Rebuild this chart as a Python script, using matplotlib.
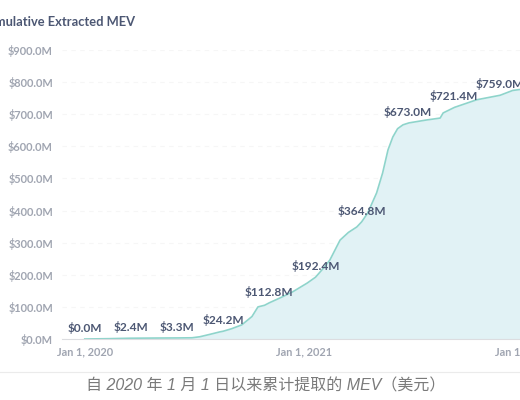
import pandas as pd
import matplotlib
matplotlib.use('Agg')
from matplotlib import pyplot as plt
from matplotlib.lines import Line2D

# cumulative MEV (million USD)
dates = ['2020-01-01', '2020-02-10', '2020-03-18', '2020-04-30', '2020-06-03',
         '2020-06-28', '2020-07-11', '2020-07-29', '2020-08-13', '2020-08-19',
         '2020-09-02', '2020-09-19', '2020-10-06', '2020-10-16', '2020-10-27',
         '2020-11-04', '2020-11-22', '2020-12-13', '2021-01-06', '2021-01-20',
         '2021-02-02', '2021-02-13', '2021-03-02', '2021-03-16', '2021-03-30',
         '2021-04-07', '2021-04-17', '2021-05-02', '2021-05-12', '2021-05-21',
         '2021-05-29', '2021-06-06', '2021-06-15', '2021-06-25', '2021-07-24',
         '2021-08-16', '2021-08-21', '2021-09-09', '2021-10-16', '2021-11-24',
         '2021-12-15', '2021-12-31']
values = [0.0, 1.0, 2.4, 3.0, 3.3,
          3.8, 7.0, 15.0, 22.0, 24.2,
          32.0, 44.0, 70.0, 100.0, 105.0,
          112.8, 128.0, 147.0, 174.0, 192.4,
          220.0, 246.0, 308.0, 332.0, 349.0,
          364.8, 392.0, 455.0, 517.0, 589.0,
          629.0, 655.0, 667.0, 673.0, 682.0,
          688.0, 704.0, 721.4, 745.0, 759.0,
          774.0, 778.0]

label_dates = ['2020-01-01', '2020-03-18', '2020-06-03', '2020-08-19', '2020-11-04',
               '2021-01-20', '2021-04-07', '2021-06-23', '2021-09-08', '2021-11-24']
label_values = [0.0, 2.4, 3.3, 24.2, 112.8, 192.4, 364.8, 673.0, 721.4, 759.0]

tick_dates = ['2020-01-01', '2021-01-01', '2022-01-01']
tick_labels = ['Jan 1, 2020', 'Jan 1, 2021', 'Jan 1, 2022']
y_ticks = [0, 100, 200, 300, 400, 500, 600, 700, 800, 900]

title = 'Cumulative Extracted MEV'
caption = '自 2020 年 1 月 1 日以来累计提取的 MEV（美元）'

x = pd.to_datetime(dates)

fig = plt.figure(figsize=(5.2, 4), dpi=100)
ax = fig.add_axes([62 / 520, 61 / 400, 498 / 520, 289 / 400])

ax.fill_between(x, values, 0, color='#e1f2f5', lw=0)
ax.plot(x, values, color='#8ed4cb', lw=1.2)

for d, v in zip(pd.to_datetime(label_dates), label_values):
    ax.annotate(f'${v:.1f}M', (d, v), xytext=(0, 3.5), textcoords='offset points',
                ha='center', va='bottom', fontsize=8.6, family='Lato',
                fontweight='bold', color='#4c5773')

ax.set_xlim(pd.Timestamp('2019-11-24'), pd.Timestamp('2022-03-04'))
ax.set_ylim(0, 900)
ax.set_yticks(y_ticks)
ax.set_yticklabels([f'${v:.1f}M' for v in y_ticks])
ax.set_xticks(pd.to_datetime(tick_dates))
ax.set_xticklabels(tick_labels)
ax.tick_params(length=0, labelsize=7.9, labelcolor='#a0a5b1')
ax.tick_params(axis='y', pad=6.5)
ax.tick_params(axis='x', pad=5.5)
for lab in ax.get_xticklabels() + ax.get_yticklabels():
    lab.set_family('Lato')
    lab.set_fontweight('bold')

ax.grid(axis='y', color='#f6f6f6', lw=0.8, ls=(0, (4, 4)))
ax.set_axisbelow(True)
for s in ['top', 'right', 'left']:
    ax.spines[s].set_visible(False)
ax.spines['bottom'].set_color('#dcdde0')

fig.text(135 / 520, 1 - 22 / 400, title, ha='right', va='center',
         fontsize=9.3, family='Lato', fontweight='bold', color='#4c5773')

fig.add_artist(Line2D([0, 1], [1 - 372 / 400, 1 - 372 / 400],
                      transform=fig.transFigure, color='#ebebeb', lw=0.8))
fig.text(266 / 520, 1 - 386 / 400, caption, ha='center', va='center',
         fontsize=11.5, style='italic', color='#7a7a7a',
         family=['Liberation Sans', 'Noto Sans CJK SC'])

fig.savefig('out.png', dpi=100)
